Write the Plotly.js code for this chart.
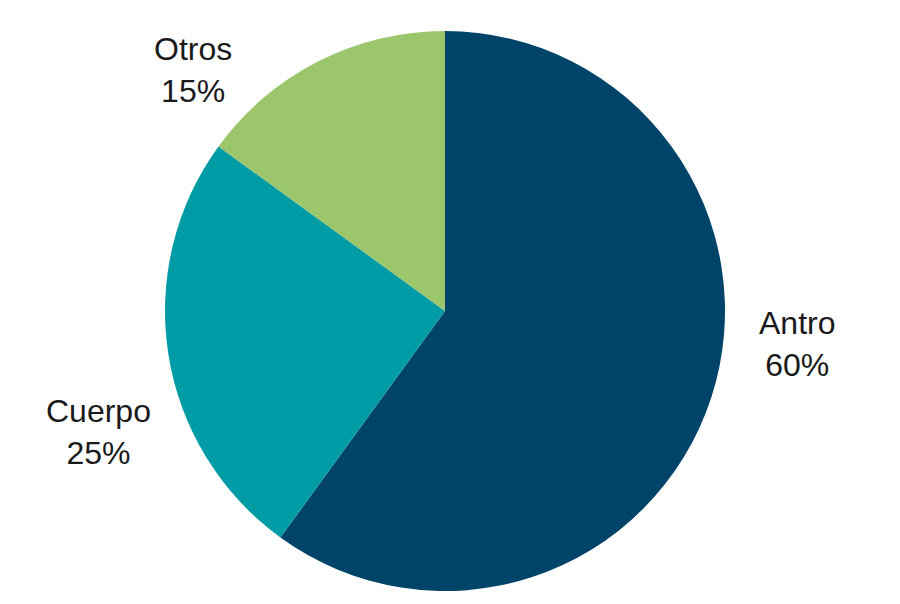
<!DOCTYPE html>
<html>
<head>
<meta charset="utf-8">
<script src="https://cdn.plot.ly/plotly-3.0.1.min.js"></script>
<style>
  html, body { margin: 0; padding: 0; background: #fff; }
  #plot { width: 900px; height: 604px; }
</style>
</head>
<body>
<div id="plot"></div>
<script>
const labels = ['Antro', 'Cuerpo', 'Otros'];
const values = [60, 25, 15];
const colors = ['#00446a', '#009ca6', '#9bc66b'];

// label anchor points in pixels (x, y from top)
const labelPos = [[797, 344], [98, 432], [193, 70]];

const W = 900;
const H = 604;
const font = { family: '"Liberation Sans Narrow", "Arial Narrow", "Liberation Sans", Arial, sans-serif', size: 32, color: '#1a1a1a' };

const trace = {
  type: 'pie',
  labels,
  values,
  sort: false,
  direction: 'clockwise',
  rotation: 0,
  marker: { colors, line: { width: 0 } },
  textinfo: 'none',
  hoverinfo: 'label+percent',
  domain: { x: [165 / W, 725 / W], y: [(H - 591) / H, (H - 31) / H] },
};

const annotations = labels.map((label, i) => ({
  text: `${label}<br>${values[i]}%`,
  x: labelPos[i][0] / W,
  y: 1 - labelPos[i][1] / H,
  xref: 'paper',
  yref: 'paper',
  xanchor: 'center',
  yanchor: 'middle',
  showarrow: false,
  font,
}));

const layout = {
  width: W,
  height: H,
  margin: { l: 0, r: 0, t: 0, b: 0 },
  paper_bgcolor: '#fff',
  showlegend: false,
  annotations,
};

Plotly.newPlot('plot', [trace], layout, { displayModeBar: false, staticPlot: true });
</script>
</body>
</html>
